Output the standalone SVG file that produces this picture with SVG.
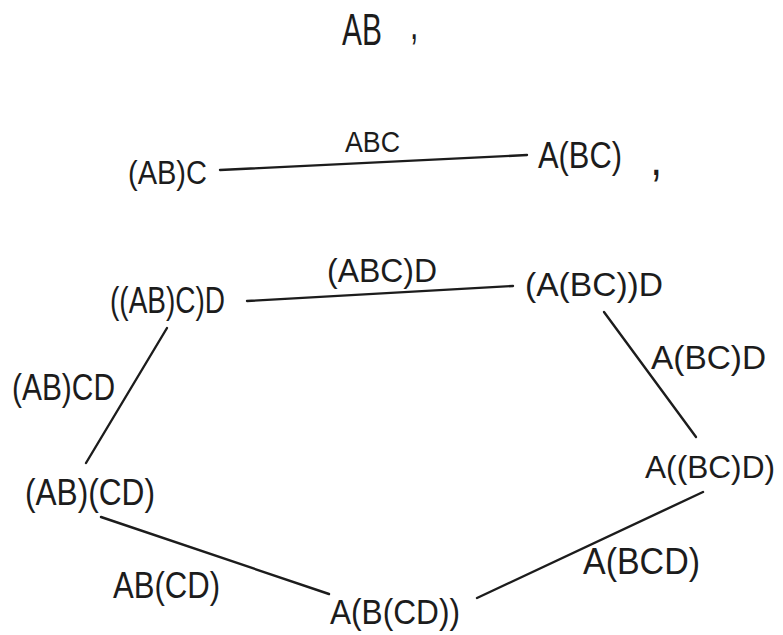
<svg xmlns="http://www.w3.org/2000/svg" width="783" height="635" viewBox="0 0 783 635">
<style>
  .t { font-family: "Liberation Sans", Arial, sans-serif; fill: #1c1c1c; }
  .e { stroke: #1c1c1c; stroke-width: 2.4; stroke-linecap: round; fill: none; }
</style>
<rect x="0" y="0" width="783" height="635" fill="#ffffff"/>

<!-- nodes -->
<g id="n-AB">
  <text class="t" font-size="44" transform="translate(342,45) scale(0.68,1)">AB <tspan x="100" y="-6">,</tspan></text>
</g>
<g id="n-AB_C">
  <text class="t" x="128" y="184" font-size="34" textLength="79" lengthAdjust="spacingAndGlyphs">(AB)C</text>
</g>
<g id="n-A_BC">
  <text class="t" font-size="36" transform="translate(538,168) scale(0.857,1)">A(BC) <tspan x="131" y="7" font-size="50">,</tspan></text>
</g>
<g id="n-ABC_D-1">
  <text class="t" x="110" y="313" font-size="36" textLength="115" lengthAdjust="spacingAndGlyphs">((AB)C)D</text>
</g>
<g id="n-ABC_D-2">
  <text class="t" x="525" y="296" font-size="34" textLength="138" lengthAdjust="spacingAndGlyphs">(A(BC))D</text>
</g>
<g id="n-AB_CD">
  <text class="t" x="25" y="505" font-size="36" textLength="130" lengthAdjust="spacingAndGlyphs">(AB)(CD)</text>
</g>
<g id="n-A_BCD-1">
  <text class="t" x="645" y="478" font-size="32" textLength="130" lengthAdjust="spacingAndGlyphs">A((BC)D)</text>
</g>
<g id="n-A_BCD-2">
  <text class="t" x="330" y="624" font-size="35" textLength="130" lengthAdjust="spacingAndGlyphs">A(B(CD))</text>
</g>

<!-- connectors -->
<g id="connectors">
  <path class="e" d="M220,170 L527,155"/>
  <path class="e" d="M247,301 L513,286"/>
  <path class="e" d="M604,312 L696,437"/>
  <path class="e" d="M167,328 L86,463"/>
  <path class="e" d="M101,517 L329,594"/>
  <path class="e" d="M477,598 L703,492"/>

  <text class="t" x="345" y="152" font-size="30" textLength="55" lengthAdjust="spacingAndGlyphs">ABC</text>
  <text class="t" x="327" y="282" font-size="34" textLength="110" lengthAdjust="spacingAndGlyphs">(ABC)D</text>
  <text class="t" x="651" y="369" font-size="34" textLength="115" lengthAdjust="spacingAndGlyphs">A(BC)D</text>
  <text class="t" x="12" y="400" font-size="36" textLength="103" lengthAdjust="spacingAndGlyphs">(AB)CD</text>
  <text class="t" x="113" y="598" font-size="36" textLength="107" lengthAdjust="spacingAndGlyphs">AB(CD)</text>
  <text class="t" x="583" y="574" font-size="36" textLength="117" lengthAdjust="spacingAndGlyphs">A(BCD)</text>
</g>
</svg>
